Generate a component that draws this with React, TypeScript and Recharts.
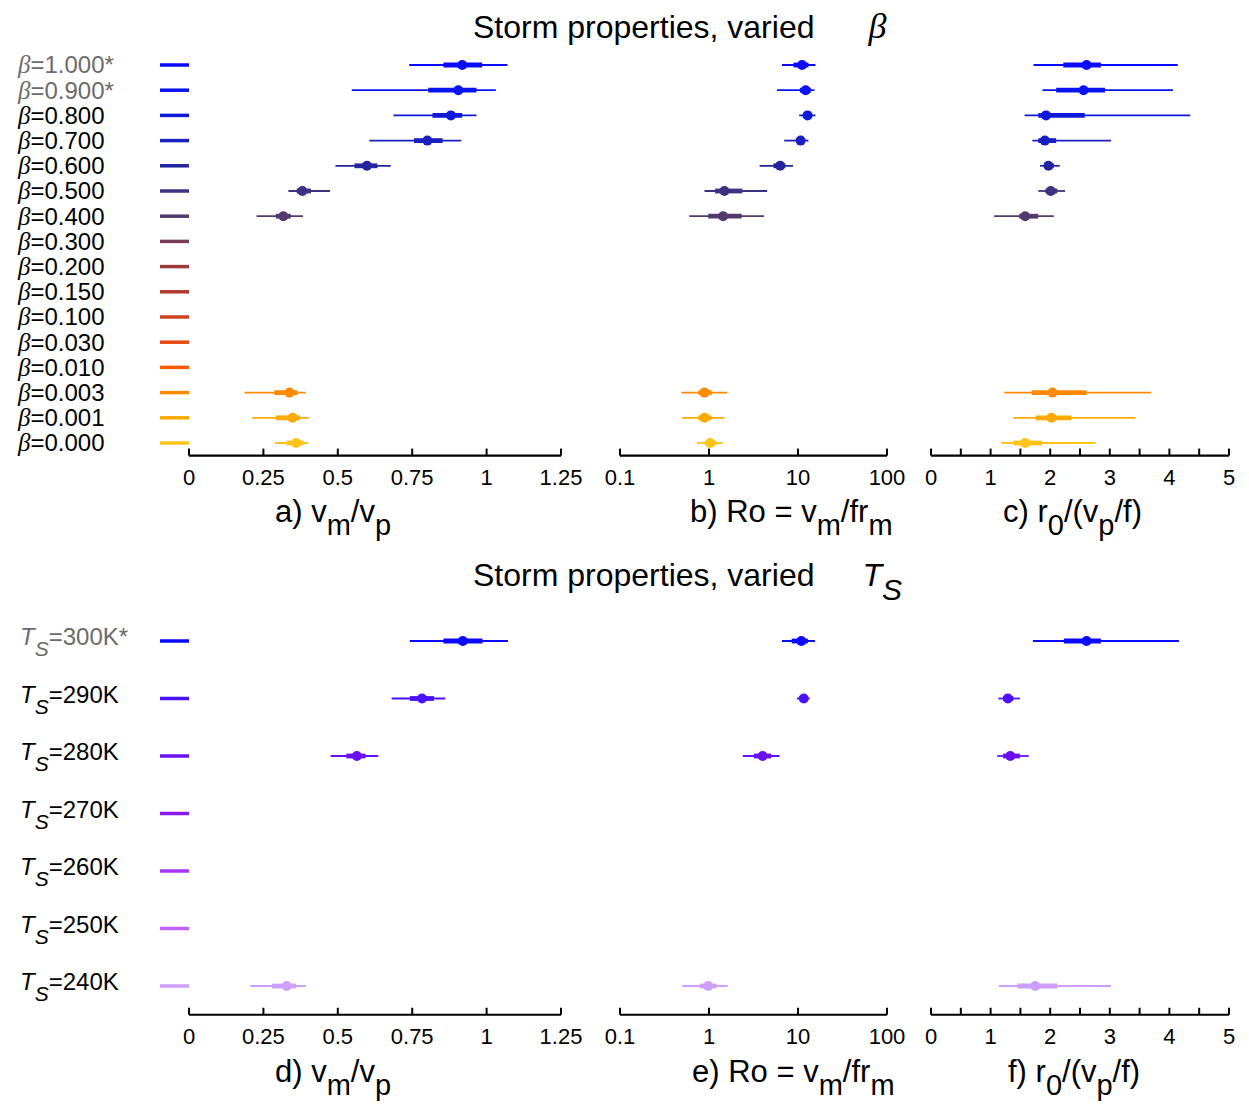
import React from 'react';
import { ScatterChart, Scatter, XAxis, YAxis, ErrorBar } from 'recharts';

// Row labels and colours
const BETA_LABELS = ['1.000*', '0.900*', '0.800', '0.700', '0.600', '0.500', '0.400', '0.300', '0.200', '0.150', '0.100', '0.030', '0.010', '0.003', '0.001', '0.000'];
const BETA_COLORS = ['#0a0aff', '#0a14f0', '#0f1ad8', '#1a20c0', '#23259e', '#3c3282', '#543a6c', '#7a3a58', '#9c3a3e', '#b23a2c', '#cc4222', '#e84812', '#ff5a00', '#ff8a00', '#ffaa00', '#ffc41a'];
const TS_LABELS = ['300K*', '290K', '280K', '270K', '260K', '250K', '240K'];
const TS_COLORS = ['#0a0aff', '#4a10ff', '#6a10f0', '#8c1af0', '#a833f5', '#c060ff', '#cda0ff'];

// [min, q1, median, q3, max] per row; null where no storms formed
type Stat = [number, number, number, number, number] | null;

const BETA_VM: Stat[] = [
  [0.74, 0.855, 0.918, 0.985, 1.07],
  [0.547, 0.804, 0.905, 0.966, 1.031],
  [0.687, 0.818, 0.88, 0.918, 0.966],
  [0.606, 0.756, 0.801, 0.852, 0.915],
  [0.492, 0.556, 0.598, 0.633, 0.678],
  [0.334, 0.362, 0.381, 0.41, 0.474],
  [0.227, 0.292, 0.317, 0.342, 0.383],
  null, null, null, null, null, null,
  [0.187, 0.287, 0.338, 0.364, 0.392],
  [0.213, 0.292, 0.348, 0.373, 0.402],
  [0.289, 0.328, 0.36, 0.384, 0.401],
];
const BETA_RO: Stat[] = [
  [6.6, 8.9, 11.1, 13.1, 15.7],
  [5.8, 10.5, 12.2, 13.9, 15.3],
  [10.3, 11.7, 12.8, 14.3, 15.7],
  [7.0, 9.5, 10.7, 11.7, 13.1],
  [3.7, 5.3, 6.3, 7.2, 8.8],
  [0.89, 1.17, 1.49, 2.37, 4.5],
  [0.6, 0.98, 1.44, 2.33, 4.15],
  null, null, null, null, null, null,
  [0.49, 0.76, 0.89, 1.07, 1.61],
  [0.5, 0.76, 0.89, 1.07, 1.49],
  [0.73, 0.9, 1.03, 1.22, 1.43],
];
const BETA_R0: Stat[] = [
  [1.72, 2.22, 2.61, 2.85, 4.14],
  [1.87, 2.1, 2.56, 2.92, 4.06],
  [1.57, 1.8, 1.93, 2.58, 4.35],
  [1.7, 1.8, 1.91, 2.1, 3.02],
  [1.83, 1.9, 1.97, 2.06, 2.16],
  [1.8, 1.92, 2.01, 2.12, 2.25],
  [1.06, 1.48, 1.58, 1.8, 2.06],
  null, null, null, null, null, null,
  [1.23, 1.69, 2.04, 2.61, 3.69],
  [1.38, 1.76, 2.02, 2.35, 3.43],
  [1.18, 1.38, 1.58, 1.86, 2.76],
];

const TS_VM: Stat[] = [
  [0.742, 0.855, 0.92, 0.986, 1.072],
  [0.681, 0.742, 0.783, 0.823, 0.861],
  [0.476, 0.529, 0.564, 0.593, 0.636],
  null, null, null,
  [0.206, 0.278, 0.328, 0.359, 0.393],
];
const TS_RO: Stat[] = [
  [6.6, 8.5, 10.9, 12.9, 15.5],
  [9.7, 10.5, 11.6, 12.6, 13.5],
  [2.4, 3.2, 4.0, 5.0, 6.2],
  null, null, null,
  [0.5, 0.79, 0.98, 1.21, 1.62],
];
const TS_R0: Stat[] = [
  [1.71, 2.23, 2.61, 2.85, 4.16],
  [1.13, 1.21, 1.29, 1.38, 1.49],
  [1.11, 1.21, 1.33, 1.49, 1.64],
  null, null, null,
  [1.14, 1.45, 1.75, 2.12, 3.02],
];

// Axis ticks
const VM_TICKS = [0, 0.25, 0.5, 0.75, 1, 1.25];
const RO_TICKS = [0.1, 1, 10, 100];
const R0_TICKS = [0, 0.5, 1, 1.5, 2, 2.5, 3, 3.5, 4, 4.5, 5];

const SANS = '"Liberation Sans", Arial, Helvetica, sans-serif';
const SERIF = '"Liberation Serif", "Times New Roman", serif';

const toPoint = (s: Stat, i: number) =>
  s && {
    x: s[2],
    y: i,
    thin: [s[2] - s[0], s[4] - s[2]],
    thick: [s[2] - s[1], s[3] - s[2]],
  };

const XTick = (props: any) => {
  const { x, y, payload, fmt } = props;
  const label = fmt(payload.value);
  return (
    <g>
      <line x1={x} x2={x} y1={y} y2={y - 7} stroke="#000" strokeWidth={2} />
      {label && (
        <text x={x} y={y + 29} textAnchor="middle" fontSize={22} fontFamily={SANS} fill="#000">
          {label}
        </text>
      )}
    </g>
  );
};

const BetaLabel = ({ i, x, y }: { i: number; x: number; y: number }) => (
  <text x={x} y={y + 8.5} fontSize={24} fontFamily={SANS} fill={BETA_LABELS[i].endsWith('*') ? '#6b6b6b' : '#000'}>
    <tspan fontFamily={SERIF} fontStyle="italic" fontSize={25}>β</tspan>
    <tspan>={BETA_LABELS[i]}</tspan>
  </text>
);

const TsLabel = ({ i, x, y }: { i: number; x: number; y: number }) => (
  <text x={x + 2} y={y + 4} fontSize={24} fontFamily={SANS} fill={TS_LABELS[i].endsWith('*') ? '#6b6b6b' : '#000'}>
    <tspan fontStyle="italic">T</tspan>
    <tspan fontStyle="italic" fontSize={21} dy={11}>S</tspan>
    <tspan dy={-11}>={TS_LABELS[i]}</tspan>
  </text>
);

interface PanelProps {
  stats: Stat[];
  colors: string[];
  left: number;
  top: number;
  padLeft: number;
  plotWidth: number;
  plotHeight: number;
  padTop: number;
  domain: [number, number];
  ticks: number[];
  fmt: (v: number) => string;
  log?: boolean;
  rowLabel?: (i: number, x: number, y: number) => React.ReactNode;
}

function Panel(p: PanelProps) {
  const n = p.stats.length;
  const padRight = 28;
  const axisH = 45;
  const rows = p.stats.map((_, i) => i);
  return (
    <div style={{ position: 'absolute', left: p.left, top: p.top }}>
      <ScatterChart
        width={p.padLeft + p.plotWidth + padRight}
        height={p.padTop + p.plotHeight + axisH}
        margin={{ top: p.padTop, right: padRight, bottom: 0, left: p.rowLabel ? 0 : p.padLeft }}
      >
        <XAxis
          type="number"
          dataKey="x"
          domain={p.domain}
          scale={p.log ? 'log' : 'linear'}
          ticks={p.ticks}
          interval={0}
          allowDataOverflow
          height={axisH}
          tickSize={0}
          tickMargin={0}
          tickLine={false}
          axisLine={{ stroke: '#000', strokeWidth: 2.2 }}
          tick={(t: any) => <XTick {...t} fmt={p.fmt} />}
        />
        <YAxis
          type="number"
          dataKey="y"
          domain={[-0.5, n - 0.5]}
          reversed
          ticks={rows}
          interval={0}
          hide={!p.rowLabel}
          width={p.rowLabel ? p.padLeft : 0}
          axisLine={false}
          tickLine={false}
          tickSize={0}
          tickMargin={0}
          tick={(t: any) => (
            <g>
              <line x1={t.x - 29} x2={t.x} y1={t.y} y2={t.y} stroke={p.colors[t.payload.value]} strokeWidth={3.5} />
              {p.rowLabel && p.rowLabel(t.payload.value, t.x - 171, t.y)}
            </g>
          )}
        />
        {p.stats.map((s, i) => {
          const pt = toPoint(s, i);
          if (!pt) return null;
          const c = p.colors[i];
          return (
            <Scatter
              key={i}
              data={[pt]}
              isAnimationActive={false}
              shape={(d: any) => <circle cx={d.cx} cy={d.cy} r={5} fill={c} />}
            >
              <ErrorBar dataKey="thin" direction="x" width={0} stroke={c} strokeWidth={1.8} isAnimationActive={false} />
              <ErrorBar dataKey="thick" direction="x" width={0} stroke={c} strokeWidth={4.8} isAnimationActive={false} />
            </Scatter>
          );
        })}
      </ScatterChart>
    </div>
  );
}

const fmtVm = (v: number) => String(v);
const fmtRo = (v: number) => String(v);
const fmtR0 = (v: number) => (Number.isInteger(v) ? String(v) : '');

const SUB_DY = 13;

const AxisTitle = ({ x, y, parts }: { x: number; y: number; parts: [string, boolean][] }) => {
  let low = false;
  return (
    <text x={x} y={y} fontSize={31} fontFamily={SANS} fill="#000">
      {parts.map(([s, sub], k) => {
        const dy = sub === low ? 0 : sub ? SUB_DY : -SUB_DY;
        low = sub;
        return (
          <tspan key={k} dy={dy} fontSize={sub ? 29 : 31}>
            {s}
          </tspan>
        );
      })}
    </text>
  );
};

function Titles() {
  return (
    <svg width={1249} height={1110} style={{ position: 'absolute', left: 0, top: 0 }}>
      <text x={473} y={38} fontSize={32} fontFamily={SANS} fill="#000">
        Storm properties, varied
        <tspan dx={54} fontFamily={SERIF} fontStyle="italic" fontSize={36}>β</tspan>
      </text>
      <text x={473} y={586} fontSize={32} fontFamily={SANS} fill="#000">
        Storm properties, varied
        <tspan dx={48} fontStyle="italic">T</tspan>
        <tspan dy={14} fontStyle="italic" fontSize={30}>S</tspan>
      </text>

      <AxisTitle x={275} y={522} parts={[['a) v', false], ['m', true], ['/v', false], ['p', true]]} />
      <AxisTitle x={690} y={522} parts={[['b) Ro = v', false], ['m', true], ['/fr', false], ['m', true]]} />
      <AxisTitle x={1003} y={522} parts={[['c) r', false], ['0', true], ['/(v', false], ['p', true], ['/f)', false]]} />

      <AxisTitle x={275} y={1082} parts={[['d) v', false], ['m', true], ['/v', false], ['p', true]]} />
      <AxisTitle x={692} y={1082} parts={[['e) Ro = v', false], ['m', true], ['/fr', false], ['m', true]]} />
      <AxisTitle x={1008} y={1082} parts={[['f) r', false], ['0', true], ['/(v', false], ['p', true], ['/f)', false]]} />
    </svg>
  );
}

export default function App() {
  const topY = 40;
  const topPad = 12.4;
  const topH = 403.2;
  const botY = 600;
  const botPad = 12.25;
  const botH = 402.5;
  return (
    <div style={{ position: 'absolute', left: 0, top: 0, width: 1249, height: 1110, background: '#fff', overflow: 'hidden' }}>
      <Titles />

      <Panel stats={BETA_VM} colors={BETA_COLORS} left={0} top={topY} padLeft={189} plotWidth={372} padTop={topPad} plotHeight={topH}
        domain={[0, 1.25]} ticks={VM_TICKS} fmt={fmtVm} rowLabel={(i, x, y) => <BetaLabel i={i} x={x} y={y} />} />
      <Panel stats={BETA_RO} colors={BETA_COLORS} left={592} top={topY} padLeft={28} plotWidth={267} padTop={topPad} plotHeight={topH}
        domain={[0.1, 100]} ticks={RO_TICKS} fmt={fmtRo} log />
      <Panel stats={BETA_R0} colors={BETA_COLORS} left={903} top={topY} padLeft={28} plotWidth={298} padTop={topPad} plotHeight={topH}
        domain={[0, 5]} ticks={R0_TICKS} fmt={fmtR0} />

      <Panel stats={TS_VM} colors={TS_COLORS} left={0} top={botY} padLeft={189} plotWidth={372} padTop={botPad} plotHeight={botH}
        domain={[0, 1.25]} ticks={VM_TICKS} fmt={fmtVm} rowLabel={(i, x, y) => <TsLabel i={i} x={x} y={y} />} />
      <Panel stats={TS_RO} colors={TS_COLORS} left={592} top={botY} padLeft={28} plotWidth={267} padTop={botPad} plotHeight={botH}
        domain={[0.1, 100]} ticks={RO_TICKS} fmt={fmtRo} log />
      <Panel stats={TS_R0} colors={TS_COLORS} left={903} top={botY} padLeft={28} plotWidth={298} padTop={botPad} plotHeight={botH}
        domain={[0, 5]} ticks={R0_TICKS} fmt={fmtR0} />
    </div>
  );
}
